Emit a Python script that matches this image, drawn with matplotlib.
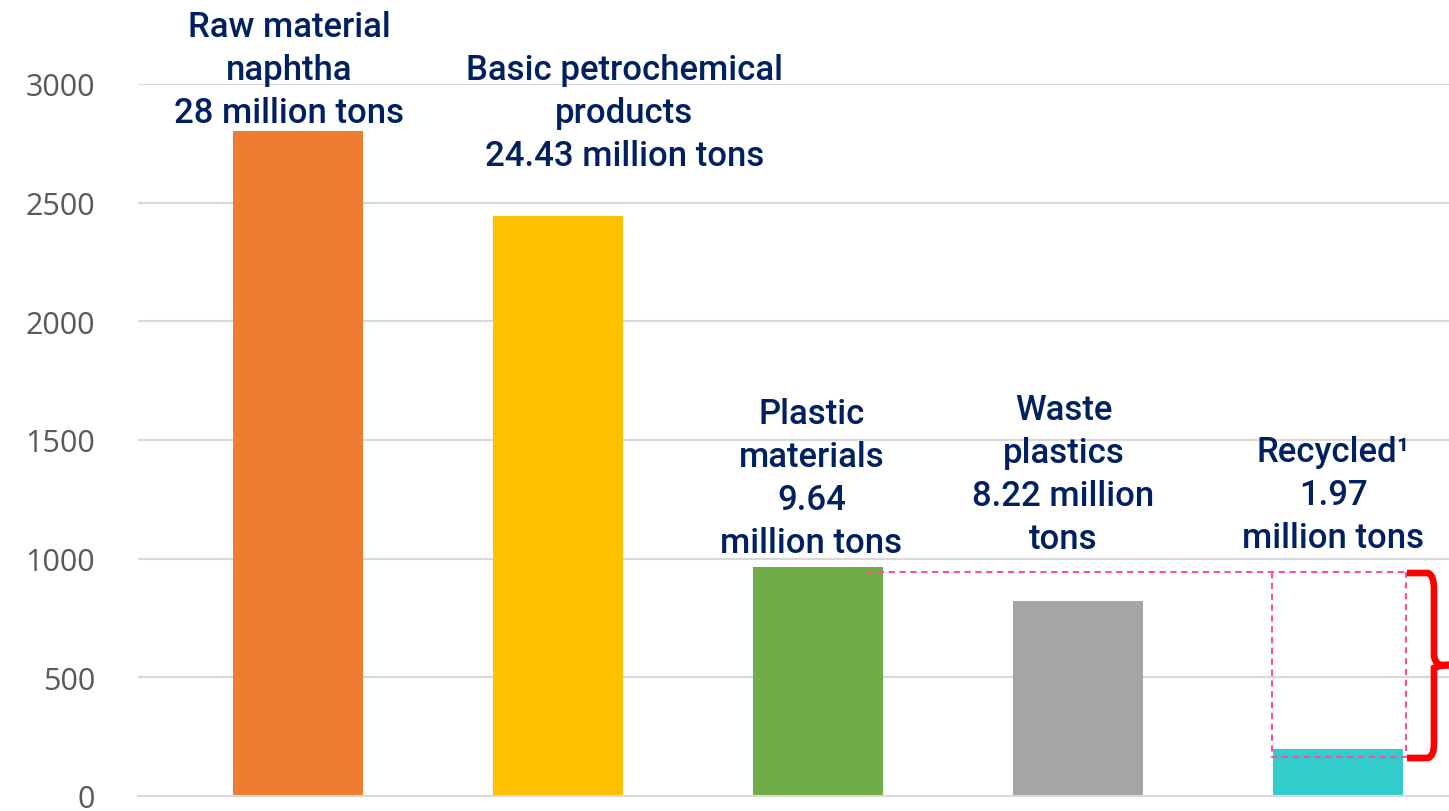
import matplotlib.pyplot as plt
from matplotlib.path import Path
from matplotlib.patches import PathPatch

# data
categories = ["Raw material\nnaphtha\n28 million tons",
              "Basic petrochemical\nproducts\n24.43 million tons",
              "Plastic\nmaterials\n9.64\nmillion tons",
              "Waste\nplastics\n8.22 million\ntons",
              "Recycled\u00b9\n1.97\nmillion tons"]
values = [2800, 2443, 964, 822, 197]
colors = ["#ED7D31", "#FFC000", "#70AD47", "#A5A5A5", "#33CCCC"]
yticks = [0, 500, 1000, 1500, 2000, 2500, 3000]

# label placement (data units, bottom of text block, and x shift)
label_y = [2812, 2630, 1000, 1017, 1020]
label_dx = [-0.035, 0.254, -0.027, -0.058, -0.019]

W, H = 1449, 812
fig = plt.figure(figsize=(W / 100, H / 100), dpi=100)
ax = fig.add_axes([138 / W, 15 / H, (W - 138) / W, (797 - 85) / H])

x = range(len(values))
ax.bar(x, values, width=0.5, color=colors, zorder=2)

ax.set_ylim(0, 3000)
ax.set_xlim(-0.617, 4.425)
ax.set_yticks(yticks)
ax.set_xticks([])
ax.yaxis.grid(True, color="#D9D9D9", linewidth=1.5, zorder=0)
ax.set_axisbelow(True)
for s in ["top", "right", "left"]:
    ax.spines[s].set_visible(False)
ax.spines["bottom"].set_color("#D9D9D9")
ax.spines["bottom"].set_linewidth(1.5)
ax.tick_params(axis="y", length=0, pad=31, labelsize=22, labelcolor="#595959")
for lab in ax.get_yticklabels():
    lab.set_fontfamily("Open Sans")

for i, txt in enumerate(categories):
    ax.text(i + label_dx[i], label_y[i], txt, ha="center", va="bottom", fontsize=25,
            color="#002060", family="Roboto", fontweight="medium", linespacing=1.38,
            clip_on=False, zorder=3)

# dashed outline linking plastic materials to recycled
pink = "#FF4F94"
dash_top = 944
dash_bot = 164
ax.plot([2.187, 4.26], [dash_top, dash_top], ls=(0, (3, 2.2)), color=pink, lw=1.5, zorder=3)
ax.plot([3.745, 3.745, 4.26, 4.26], [dash_top, dash_bot, dash_bot, dash_top],
        ls=(0, (3, 2.2)), color=pink, lw=1.5, zorder=3)


# red curly brace, drawn in pixel-like units then mapped to data
def px(xp, yp):
    return ((xp - 298.5) / 260, (797 - yp) / 0.23733)


pts = [(1407, 574), (1428, 574), (1434, 576), (1434, 590),
       (1434, 655), (1434, 663), (1440, 666), (1452, 666),
       (1440, 666), (1434, 669), (1434, 677),
       (1434, 745), (1434, 757), (1428, 759), (1407, 759)]
codes = [Path.MOVETO, Path.LINETO, Path.CURVE3, Path.CURVE3,
         Path.LINETO, Path.CURVE3, Path.CURVE3, Path.LINETO,
         Path.CURVE3, Path.CURVE3, Path.LINETO,
         Path.LINETO, Path.CURVE3, Path.CURVE3, Path.LINETO]
brace = Path([px(a, b) for a, b in pts], codes)
ax.add_patch(PathPatch(brace, fill=False, edgecolor="#FF0000", lw=4.8,
                       capstyle="butt", joinstyle="miter", clip_on=False, zorder=4))

fig.savefig("out.png", dpi=100)
